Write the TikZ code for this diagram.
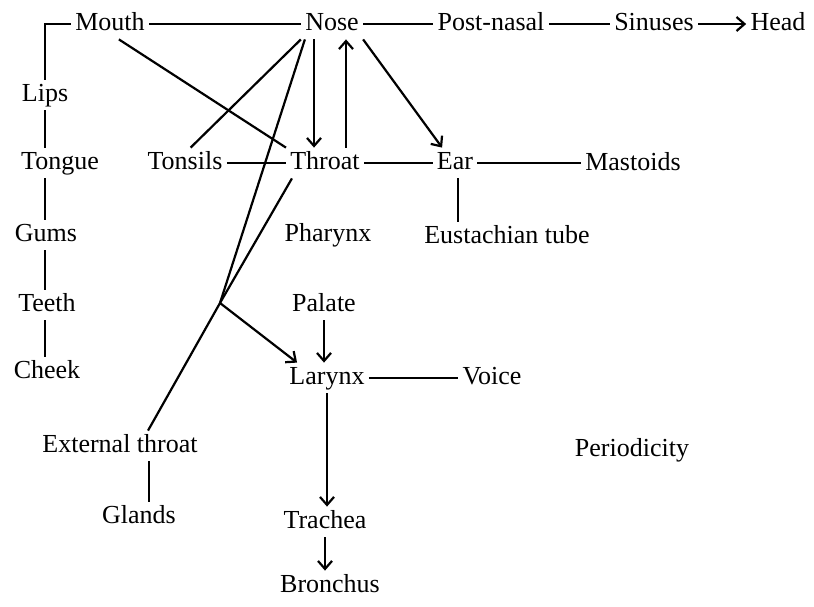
\documentclass[tikz,border=0pt]{standalone}
\usepackage{fontspec}
\setmainfont{Liberation Serif}
\usetikzlibrary{calc, arrows.meta}

\begin{document}
\begin{tikzpicture}[x = 0.5pt, y = -0.5pt,
		part/.style = {inner sep = 2pt, text height = 8.5pt, text depth = 2.5pt, font = \fontsize{13}{15}\selectfont},
		link/.style = {line width = 1.1pt},
		flow/.style = {-{Straight Barb[length = 4pt, width = 7pt]}, line width = 1.1pt}]
				\useasboundingbox (0, 0) rectangle (814, 606);
				
				% top row
				\node[part] (mouth) at (110, 24) {Mouth};
				\node[part] (nose) at (332, 24) {Nose};
				\node[part] (postnasal) at (491, 24) {Post-nasal};
				\node[part] (sinuses) at (654, 24) {Sinuses};
				\node[part] (head) at (778, 24) {Head};
				
				% mouth column
				\node[part] (lips) at (45, 95) {Lips};
				\node[part] (tongue) at (60, 163) {Tongue};
				\node[part] (gums) at (46, 235) {Gums};
				\node[part] (teeth) at (47, 305) {Teeth};
				\node[part] (cheek) at (47, 372) {Cheek};
				
				% throat row
				\node[part] (tonsils) at (185, 163) {Tonsils};
				\node[part] (throat) at (325, 163) {Throat};
				\node[part] (ear) at (455, 163) {Ear};
				\node[part] (mastoids) at (633, 164) {Mastoids};
				\node[part] (pharynx) at (328, 235) {Pharynx};
				\node[part] (eustachian) at (507, 237) {Eustachian tube};
				
				% lower parts
				\node[part] (palate) at (324, 305) {Palate};
				\node[part] (larynx) at (327, 378) {Larynx};
				\node[part] (voice) at (492, 378) {Voice};
				\node[part] (extthroat) at (120, 446) {External throat};
				\node[part] (periodicity) at (632, 450) {Periodicity};
				\node[part] (glands) at (139, 517) {Glands};
				\node[part] (trachea) at (325, 522) {Trachea};
				\node[part] (bronchus) at (330, 586) {Bronchus};
				\coordinate (fork) at (220, 303);
				
				% lines
				\draw[link] (mouth) -- (nose);
				\draw[link] (nose) -- (postnasal);
				\draw[link] (postnasal) -- (sinuses);
				\draw[link] (mouth.west) -| (lips.north);
				\draw[link] (lips.south) -- (lips.south |- tongue.north);
				\draw[link] (lips.south |- tongue.south) -- (lips.south |- gums.north);
				\draw[link] (lips.south |- gums.south) -- (lips.south |- teeth.north);
				\draw[link] (lips.south |- teeth.south) -- (lips.south |- cheek.north);
				\draw[link] (mouth.-60) -- (throat.north west);
				\draw[link] (nose.south west) -- (tonsils.70);
				\draw[link] ([xshift = 2pt]nose.south west) -- (fork);
				\draw[link] ([xshift = 3pt]throat.south west) -- (fork) -- ($(extthroat.north) + (28, 0)$);
				\draw[link] (tonsils) -- (throat);
				\draw[link] (throat) -- (ear);
				\draw[link] (ear.east) -- (ear.east -| mastoids.west);
				\draw[link] ([xshift = 1.5pt]ear.south) -- ([xshift = 1.5pt]ear.south |- eustachian.north);
				\draw[link] (larynx) -- (voice);
				\draw[link] ([xshift = 5pt]glands.north |- extthroat.south) -- ([xshift = 5pt]glands.north);
				
				% arrows
				\draw[flow] (sinuses) -- (head);
				\draw[flow] ([xshift = -9pt]nose.south) -- ([xshift = -9pt]nose.south |- throat.north);
				\draw[flow] ([xshift = 7pt]nose.south |- throat.north) -- ([xshift = 7pt]nose.south);
				\draw[flow] (nose.south east) -- (ear.130);
				\draw[flow] (fork) -- ([xshift = 6pt]larynx.north west);
				\draw[flow] (palate.south) -- (palate.south |- larynx.north);
				\draw[flow] (larynx.south) -- (larynx.south |- trachea.north);
				\draw[flow] (trachea.south) -- (trachea.south |- bronchus.north);
				
			\end{tikzpicture}
\end{document}
